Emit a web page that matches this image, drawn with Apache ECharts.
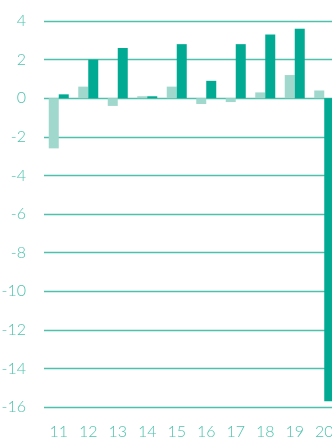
<!DOCTYPE html>
<html>
<head>
<meta charset="utf-8">
<script src="https://cdn.jsdelivr.net/npm/echarts@6/dist/echarts.min.js"></script>
<style>
  html, body { margin: 0; padding: 0; background: #ffffff; }
  #chart { width: 332px; height: 439px; }
</style>
</head>
<body>
<div id="chart"></div>
<script>
// Year labels (20xx) along the bottom
const categories = ['11', '12', '13', '14', '15', '16', '17', '18', '19', '20'];
// Lighter series (first bar in each pair)
const seriesLight = [-2.6, 0.6, -0.4, 0.1, 0.6, -0.3, -0.2, 0.3, 1.2, 0.4];
// Darker series (second bar in each pair)
const seriesDark = [0.2, 2.0, 2.6, 0.1, 2.8, 0.9, 2.8, 3.3, 3.6, -15.7];
// Value axis range and step
const yMin = -16, yMax = 4, yStep = 2;

const chart = echarts.init(document.getElementById('chart'), null, { renderer: 'canvas' });
const labelColor = '#4cc3ad';
const gridColor = '#4fc0ab';
const fontFamily = 'Lato, "Open Sans", sans-serif';

chart.setOption({
  animation: false,
  grid: {
    left: 44,
    top: 21,
    width: 295,
    height: 386,
    containLabel: false,
    outerBoundsMode: 'none'
  },
  xAxis: {
    type: 'category',
    data: categories,
    axisLine: { show: false },
    axisTick: { show: false },
    axisLabel: {
      color: labelColor,
      fontFamily: fontFamily,
      fontWeight: 300,
      fontSize: 16,
      margin: 17
    },
    splitLine: { show: false }
  },
  yAxis: {
    type: 'value',
    min: yMin,
    max: yMax,
    interval: yStep,
    axisLine: { show: false },
    axisTick: { show: false },
    axisLabel: {
      color: labelColor,
      fontFamily: fontFamily,
      fontWeight: 300,
      fontSize: 16,
      margin: 18
    },
    splitLine: { show: true, lineStyle: { color: gridColor, width: 1.3 } }
  },
  series: [
    {
      type: 'bar',
      data: seriesLight,
      barWidth: 10,
      barGap: '0%',
      itemStyle: { color: '#a1d8cd' }
    },
    {
      type: 'bar',
      data: seriesDark,
      barWidth: 10,
      barGap: '0%',
      itemStyle: { color: '#00aa93' }
    }
  ]
});
</script>
</body>
</html>
